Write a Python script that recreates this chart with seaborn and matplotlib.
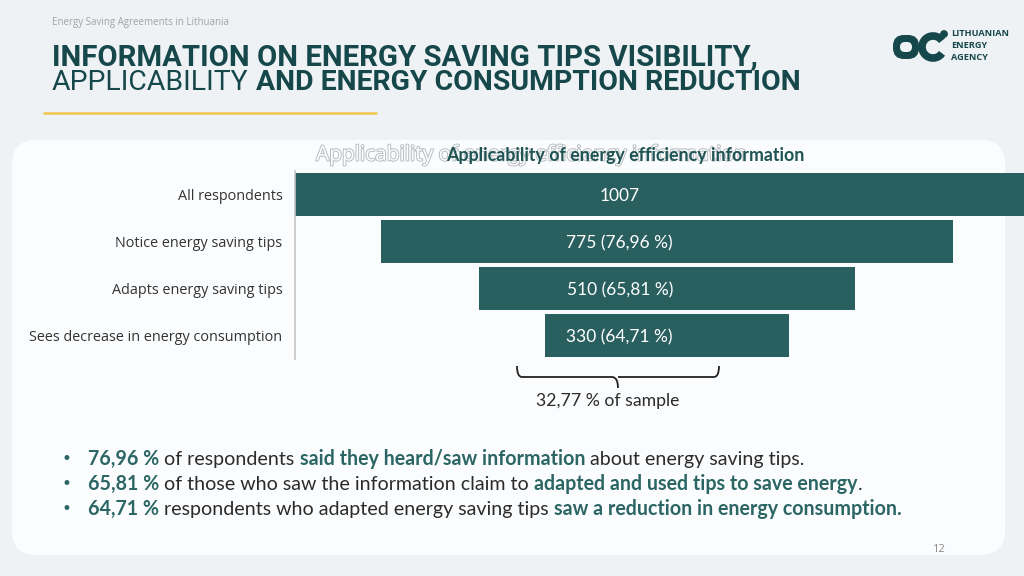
import matplotlib
matplotlib.use("Agg")
import matplotlib.pyplot as plt
import matplotlib.patheffects as pe
from matplotlib.patches import FancyBboxPatch, Arc, Circle, PathPatch
from matplotlib.path import Path
import pandas as pd
import seaborn as sns

# ========================== DATA ==========================
stages = ["All respondents",
          "Notice energy saving tips",
          "Adapts energy saving tips",
          "Sees decrease in energy consumption"]
counts = [1007, 775, 510, 330]
bar_labels = ["1007", "775 (76,96 %)", "510 (65,81 %)", "330 (64,71 %)"]
sample_note = "32,77 % of sample"

chart_title = "Applicability of energy efficiency information"
header = "Energy Saving Agreements in Lithuania"
title_line1 = [("INFORMATION ON ENERGY SAVING TIPS VISIBILITY,", True)]
title_line2 = [("APPLICABILITY ", False), ("AND ENERGY CONSUMPTION REDUCTION", True)]
logo_lines = ["LITHUANIAN", "ENERGY", "AGENCY"]
page_no = "12"

# (text, highlighted)
bullets = [
    [("76,96 %", True), (" of respondents ", False),
     ("said they heard/saw information", True), (" about energy saving tips.", False)],
    [("65,81 %", True), (" of those who saw the information claim to ", False),
     ("adapted and used tips to save energy", True), (".", False)],
    [("64,71 %", True), (" respondents who adapted energy saving tips ", False),
     ("saw a reduction in energy consumption.", True)],
]

# ========================== STYLE ==========================
BG = "#eef2f5"
PANEL = "#fbfcfd"
BAR = "#2a5f5f"
TITLE = "#16474a"
HILITE = "#2b6664"
TEXT = "#2b2b2b"

sns.set_theme(style="white")
plt.rcParams["font.family"] = ["Open Sans", "DejaVu Sans"]

fig = plt.figure(figsize=(10.24, 5.76), dpi=100)
fig.patch.set_facecolor(BG)
renderer = fig.canvas.get_renderer()

# background axes in pixel units (y down)
bg = fig.add_axes([0, 0, 1, 1])
bg.set_xlim(0, 1024)
bg.set_ylim(576, 0)
bg.axis("off")
bg.set_zorder(0)

bg.add_patch(FancyBboxPatch((12, 140), 993, 415,
                            boxstyle="round,pad=0,rounding_size=24",
                            fc=PANEL, ec="none"))


def text_width(s, **kw):
    t = bg.text(0, 0, s, **kw)
    w = t.get_window_extent(renderer).width
    t.remove()
    return w


def parts_width(parts, size, family):
    return sum(text_width(s.replace(" ", "\u00a0"), fontsize=size, family=family,
                          fontweight="bold" if b else "normal") for s, b in parts)


def rich(x, y, parts, size, family, colors):
    for s, strong in parts:
        kw = dict(fontsize=size, family=family,
                  fontweight="bold" if strong else "normal")
        sp = text_width("a a", **kw) - text_width("aa", **kw)
        lead = len(s) - len(s.lstrip(" "))
        trail = len(s) - len(s.rstrip(" "))
        x += lead * sp
        core = s.strip(" ")
        t = bg.text(x, y, core, va="center", ha="left",
                    color=colors[strong], **kw)
        x += t.get_window_extent(renderer).width + trail * sp
    return x


# ---------- header ----------
bg.text(52, 22, header, fontsize=7, color="#a0a4a8", va="center",
        family=["Open Sans"])

tfam = ["Roboto"]
s1 = 20 * 705 / parts_width(title_line1, 20, tfam)
s2 = 20 * 746 / parts_width(title_line2, 20, tfam)
rich(52, 57, title_line1, s1, tfam, {True: TITLE, False: TITLE})
rich(52, 82, title_line2, s2, tfam, {True: TITLE, False: TITLE})
bg.plot([43, 377], [113, 113], color="#f0c64a", lw=1.8, solid_capstyle="butt")

# ---------- logo ----------
bg.add_patch(FancyBboxPatch((893, 35), 26, 24,
                            boxstyle="round,pad=0,rounding_size=11",
                            fc=TITLE, ec="none"))
bg.add_patch(FancyBboxPatch((900, 42), 12, 10,
                            boxstyle="round,pad=0,rounding_size=5",
                            fc=BG, ec="none"))
bg.add_patch(Arc((933, 47), 22, 22, theta1=35, theta2=325, lw=5.5, color=TITLE))
bg.add_patch(Circle((944, 34), 3.2, color=TITLE))
for i, line in enumerate(logo_lines):
    bg.text(951, 34 + 12 * i, line, fontsize=6.6, fontweight="bold",
            color=TITLE, va="center", family=["Open Sans"])

# ---------- chart title (with ghost outline behind) ----------
bg.text(316, 155, chart_title, fontsize=15, color="white", va="center",
        family=["Open Sans"],
        path_effects=[pe.withStroke(linewidth=1.4, foreground="#b8bcc0")])
bg.text(625, 156, chart_title, fontsize=12.8, fontweight="bold", color="#1f5454",
        ha="center", va="center", family=["Lato"])

# ========================== FUNNEL ==========================
df = pd.DataFrame({"stage": stages, "count": counts})

ax = fig.add_axes([295 / 1024, 1 - 359 / 576, 744 / 1024, 188 / 576])
ax.set_zorder(2)
ax.patch.set_alpha(0)
sns.barplot(data=df, x="count", y="stage", color=BAR, saturation=1,
            width=43 / 47, edgecolor="none", ax=ax)
# centre each bar -> funnel
for p in ax.patches:
    p.set_x(-p.get_width() / 2)
ax.set_xlim(-max(counts) / 2, max(counts) / 2)
ax.set_ylim(3.5, -0.5)
ax.set_xlabel("")
ax.set_ylabel("")
ax.set_xticks([])
ax.tick_params(axis="y", length=0, pad=9, labelsize=10.4, labelcolor="#333333")
for s in ["top", "right", "bottom"]:
    ax.spines[s].set_visible(False)
ax.spines["left"].set_color("#c4c4c4")
ax.spines["left"].set_linewidth(1.2)

for i, lab in enumerate(bar_labels):
    ax.text(-64, i + 0.04, lab, ha="center", va="center", color="white",
            fontsize=12.5, family=["Lato"])

# brace under the last two stages
verts = [(517, 366), (517, 377), (522, 377), (612, 377), (618, 377), (618, 388),
         (618, 377), (624, 377), (714, 377), (719, 377), (719, 366)]
codes = [Path.MOVETO, Path.CURVE3, Path.CURVE3, Path.LINETO, Path.CURVE3, Path.CURVE3,
         Path.MOVETO, Path.CURVE3, Path.LINETO, Path.CURVE3, Path.CURVE3]
bg.add_patch(PathPatch(Path(verts, codes), fc="none", ec="#222222", lw=1.3))
bg.text(608, 401, sample_note, fontsize=12.7, color=TEXT, ha="center",
        va="center", family=["Lato"])

# ========================== BULLETS ==========================
for i, parts in enumerate(bullets):
    y = 459 + 25 * i
    bg.text(66, y, "\u2022", fontsize=12, color=HILITE, ha="center", va="center",
            family=["DejaVu Sans"])
    rich(88, y, parts, 14.1, ["Lato"], {True: HILITE, False: TEXT})

bg.text(938, 549, page_no, fontsize=8, color="#8a8a8a", ha="center", va="center",
        family=["Open Sans"])

fig.savefig("out.png", dpi=100, facecolor=BG)
